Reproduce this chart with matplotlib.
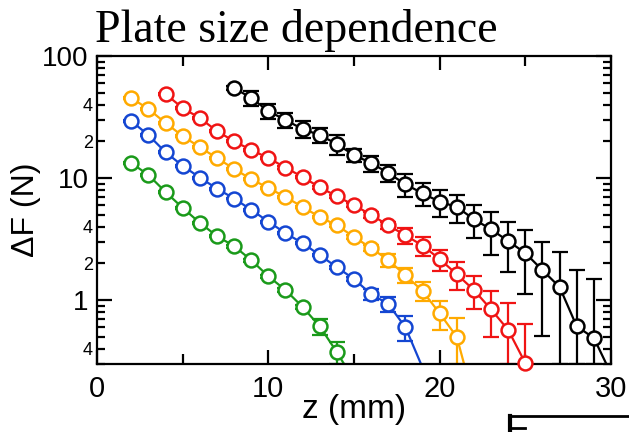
import numpy as np
import matplotlib
matplotlib.use("Agg")
import matplotlib.pyplot as plt
from matplotlib.ticker import FixedLocator, FixedFormatter, FuncFormatter, MultipleLocator
from matplotlib.lines import Line2D

plt.rcParams['font.family'] = ['Liberation Sans', 'DejaVu Sans']

# plate size series (z in mm, force in N, error in N)
z_black = [8, 9, 10, 11, 12, 13, 14, 15, 16, 17, 18, 19, 20, 21, 22, 23, 24, 25, 26, 27, 28, 29, 30]
f_black = [54.7, 45.3, 35.4, 29.9, 25.2, 22.5, 19.0, 15.4, 13.3, 11.0, 8.9, 7.5, 6.4, 5.8, 4.6,
           3.8, 3.05, 2.43, 1.76, 1.28, 0.61, 0.49, 0.25]
e_black = [2.0, 6.0, 5.0, 4.2, 3.9, 3.3, 3.6, 1.8, 2.0, 1.8, 1.9, 1.6, 1.6, 1.5, 1.4,
           1.45, 1.35, 1.3, 1.25, 1.2, 1.15, 1.0, 0.0]

z_red = [4, 5, 6, 7, 8, 9, 10, 11, 12, 13, 14, 15, 16, 17, 18, 19, 20, 21, 22, 23, 24, 25]
f_red = [48.8, 37.5, 31.0, 24.3, 20.0, 17.0, 14.6, 12.2, 10.2, 8.4, 7.1, 6.0, 5.0, 4.1, 3.4,
         2.8, 2.17, 1.63, 1.21, 0.84, 0.57, 0.305]
e_red = [1.0, 0.8, 0.6, 0.5, 0.4, 0.35, 0.3, 0.25, 0.2, 0.2, 0.2, 0.2, 0.25, 0.3, 0.5,
         0.5, 0.43, 0.43, 0.36, 0.34, 0.38, 0.33]

z_orange = [2, 3, 4, 5, 6, 7, 8, 9, 10, 11, 12, 13, 14, 15, 16, 17, 18, 19, 20, 21, 22]
f_orange = [45.3, 36.8, 28.3, 22.1, 17.9, 14.6, 11.9, 9.8, 8.3, 7.0, 5.8, 4.8, 4.1, 3.3, 2.67,
            2.13, 1.60, 1.19, 0.78, 0.50, 0.15]
e_orange = [1.0, 0.8, 0.6, 0.45, 0.35, 0.3, 0.25, 0.2, 0.17, 0.15, 0.12, 0.1, 0.1, 0.12, 0.15,
            0.27, 0.23, 0.21, 0.21, 0.22, 0.0]

z_blue = [2, 3, 4, 5, 6, 7, 8, 9, 10, 11, 12, 13, 14, 15, 16, 17, 18, 19]
f_blue = [29.3, 22.5, 16.3, 12.6, 10.1, 8.2, 6.8, 5.5, 4.4, 3.54, 2.93, 2.34, 1.86, 1.49, 1.12,
          0.93, 0.60, 0.28]
e_blue = [0.6, 0.45, 0.3, 0.25, 0.2, 0.15, 0.12, 0.1, 0.08, 0.07, 0.06, 0.05, 0.05, 0.06, 0.12,
          0.13, 0.14, 0.0]

z_green = [2, 3, 4, 5, 6, 7, 8, 9, 10, 11, 12, 13, 14, 15]
f_green = [13.3, 10.6, 7.7, 5.7, 4.3, 3.35, 2.77, 2.13, 1.57, 1.21, 0.88, 0.61, 0.375, 0.22]
e_green = [0.3, 0.25, 0.2, 0.15, 0.1, 0.08, 0.07, 0.06, 0.05, 0.04, 0.04, 0.09, 0.08, 0.0]

series = [
    (z_black, f_black, e_black, 'black'),
    (z_red, f_red, e_red, '#f01414'),
    (z_orange, f_orange, e_orange, '#ffaa00'),
    (z_blue, f_blue, e_blue, '#1446d2'),
    (z_green, f_green, e_green, '#1a9a1a'),
]

y_min, y_max = 0.3, 100

fig = plt.figure(figsize=(6.29, 4.32), dpi=100)
ax = fig.add_axes([0.1542, 0.1574, 0.8172, 0.713])

for z, f, e, c in series:
    z = np.array(z); f = np.array(f); e = np.array(e)
    # lower ends stop at the bottom of the axis, as in the original
    lo = np.minimum(e, np.maximum(f - y_min, 0))
    ax.errorbar(z, f, yerr=[lo, e], fmt='-', color=c, lw=1.6, elinewidth=1.6,
                capsize=5.5, capthick=1.6, zorder=2)
    m = f >= y_min * 0.99
    ax.plot(z[m], f[m], 'o', ms=10, mfc='white', mec=c, mew=1.8,
            clip_on=False, zorder=3)

ax.set_yscale('log')
ax.set_xlim(0, 30)
ax.set_ylim(y_min, y_max)

ax.xaxis.set_major_locator(MultipleLocator(10))
ax.xaxis.set_minor_locator(MultipleLocator(5))
ax.yaxis.set_major_locator(FixedLocator([1, 10, 100]))
ax.yaxis.set_major_formatter(FixedFormatter(['1', '10', '100']))
minor_y = [m * d for d in [0.1, 1, 10] for m in range(2, 10)]
ax.yaxis.set_minor_locator(FixedLocator([v for v in minor_y if y_min <= v <= y_max]))


def minor_label(v, pos):
    mant = v / 10 ** np.floor(np.log10(v) + 1e-9)
    if abs(mant - 2) < 1e-6 or abs(mant - 4) < 1e-6:
        return '%d' % round(mant)
    return ''


ax.yaxis.set_minor_formatter(FuncFormatter(minor_label))

for s in ax.spines.values():
    s.set_linewidth(1.6)

ax.tick_params(which='both', direction='in', top=True, right=True, width=1.6)
ax.tick_params(axis='x', which='major', length=10, labelsize=21, pad=8)
ax.tick_params(axis='x', which='minor', length=7)
ax.tick_params(axis='y', which='major', length=11, labelsize=20, pad=6)
ax.tick_params(axis='y', which='minor', length=6, labelsize=13, pad=3)

fig.text(95 / 629, 1 - 42 / 432, 'Plate size dependence', family='Liberation Serif',
         fontsize=33, ha='left', va='baseline')
fig.text(26 / 629, 1 - 210 / 432, '\u0394F (N)', fontsize=23, rotation=90,
         ha='center', va='center')
fig.text(354 / 629, 1 - 418 / 432, 'z (mm)', fontsize=24, ha='center', va='baseline')

# cut-off edge of the neighbouring panel
fig.add_artist(Line2D([509 / 629, 1.0], [1 - 416 / 432, 1 - 416 / 432],
                      transform=fig.transFigure, color='black', lw=2))
fig.add_artist(Line2D([510 / 629, 510 / 629], [1 - 416 / 432, 0.0],
                      transform=fig.transFigure, color='black', lw=3))
fig.add_artist(Line2D([509 / 629, 525 / 629], [1 - 428 / 432, 1 - 428 / 432],
                      transform=fig.transFigure, color='black', lw=2))

fig.savefig('out.png', dpi=100)
